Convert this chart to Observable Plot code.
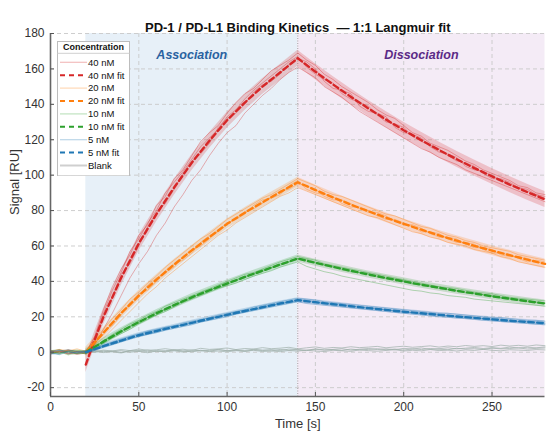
<!DOCTYPE html>
<html><head><meta charset="utf-8">
<script src="https://cdn.jsdelivr.net/npm/d3@7"></script>
<script src="https://cdn.jsdelivr.net/npm/@observablehq/plot@0.6"></script>
<style>
body{margin:0;background:#fff;}
#wrap{position:relative;width:551px;height:445px;font-family:"Liberation Sans",Arial,sans-serif;}
#legend{position:absolute;left:57px;top:41px;}
</style></head>
<body><div id="wrap"><div id="chart"></div><div id="legend"></div></div>
<script>
// ---------- data ----------
const concentrations = ["40 nM","20 nM","10 nM","5 nM"];
const phases = [
  {name:"Association", start:20, end:140},
  {name:"Dissociation", start:140, end:280}
];
const xTicks = [0,50,100,150,200,250];
const yTicks = [-20,0,20,40,60,80,100,120,140,160,180];

// fitted 1:1 Langmuir curves
const fitT = [20,25,30,40,50,60,70,80,90,100,110,120,130,140,150,160,170,180,190,200,210,220,230,240,250,260,270,280];
const fit40 = [-7,7,20,42,61.5,78,93,107,119.5,131,141,150,158,166,158.4,151.2,144.3,137.7,131.4,125.4,119.7,114.2,109,104,99.3,94.7,90.4,86.3];
const fit20 = [0,5.5,11,22,32,41,49.5,57.5,65,72.5,78.8,84.7,90.4,96,91.6,87.4,83.4,79.6,76,72.5,69.2,66,63,60.1,57.4,54.8,52.3,49.9];
const fit10 = [0,3,6,11.8,17,22,26.6,31,35,38.8,42.5,46,49.5,52.9,50.5,48.2,46,43.9,41.9,40,38.1,36.4,34.7,33.2,31.6,30.2,28.8,27.5];
const fit5  = [0,1.7,3.4,6.6,9.6,12,14.3,16.6,18.9,21.1,23.3,25.4,27.5,29.4,28.2,27.1,26,24.9,23.9,22.9,22,21.1,20.2,19.4,18.6,17.8,17.1,16.4];
// mean ± SD band half-width per concentration
const bandSD = [4.5,2.8,2,1.4];

// replicate sensorgrams
const repT = [0,5,10,15,20,25,30,35,40,45,50,55,60,65,70,75,80,85,90,95,100,105,110,115,120,125,130,135,140,145,150,155,160,165,170,175,180,185,190,195,200,205,210,215,220,225,230,235,240,245,250,255,260,265,270,275,280];
const rep40 = [
 [0.8,-0.5,1.2,0.3,-1,9,24,37,47,55,66,72,83,88,98,103,111,119,124,128,135,141,146,149,154,159,162,165,169,165,162,157,154,150,147,144,141,137,134,132,128,124,122,118,116,114,111,108,106,103,101,99,97,94,93,90,89],
 [-0.6,0.9,-1.1,0.5,0.2,4,13,22,32,42,50,57,66,73,82,89,97,103,111,118,124,128,135,140,145,149,154,158,161,158,155,150,147,144,140,136,133,130,127,124,121,118,115,113,110,108,106,103,101,99,97,95,93,91,89,87,85],
 [0.2,1.5,-0.4,-1.2,-0.5,6,20,31,44,50,60,71,79,84,92,101,108,112,118,127,132,135,140,147,151,153,157,163,166,164,160,153,149,148,146,139,136,135,133,127,124,123,121,116,113,112,110,105,103,102,100,97,95,93,91,89,87],
 [-1.0,0.4,0.7,-0.8,0.6,8,22,35,45,57,64,73,80,90,96,102,109,116,121,126,133,137,143,148,152,156,160,164,167,161,157,154,152,146,143,141,139,134,130,129,127,122,119,117,115,111,108,107,105,101,98,98,96,93,92,89,88]
];
const rep20 = [
 [0.5,1.6,0.8,1.9,0.6,7,13,19,24,30,34,39,43,48,52,56,60,64,67,71,75,78,81,84,87,89,92,95,98,96,94,91,89,88,86,84,82,80,78,77,75,73,71,70,68,66,65,63,62,60,59,58,57,55,54,53,52],
 [-0.3,0.4,-0.8,0.9,-0.2,4,8,13,18,23,28,33,37,42,46,50,54,58,62,66,69,73,76,79,82,85,88,90,93,91,89,87,85,83,81,79,77,76,74,72,70,68,67,65,64,62,61,60,58,57,56,54,53,51,50,49,48],
 [1.0,-0.2,0.6,-0.5,0.3,6,12,15,21,28,33,35,40,46,50,52,56,62,66,68,72,76,79,81,84,88,91,92,95,94,92,88,86,86,84,81,79,79,77,74,72,72,70,67,65,65,64,61,59,59,58,55,54,54,53,51,50],
 [-0.9,0.7,1.3,0.2,-0.6,5,10,17,23,26,31,38,42,45,48,54,58,60,64,69,73,75,78,83,86,87,89,94,97,92,90,89,88,84,82,82,80,77,75,75,73,71,68,68,67,64,62,62,61,58,56,56,55,53,51,52,51]
];
const rep10 = [
 [-0.8,0.3,-1.5,-0.4,-0.9,2.5,6.5,10,13,16,18,21,23,26,28,30,32,34,36,38,40,42,44,45,47,49,51,52.5,54,53,52,50,49,48,47,46,45,44,43,42,41,40,39,38,37,36.5,36,35,34,33.5,33,32,31,30.5,30,29.5,29],
 [0.4,-0.6,0.2,-1.0,-0.3,2,5,8,10.5,13,16,18.5,21,23,25.5,28,30,32,34,36,37.5,39,41,43,44.5,46,48,49.5,51,48.5,47,45.5,44.5,43,42,41,40,39,38,37,36,35,34.5,33.5,33,32,31.5,31,30,29.5,29,28.5,28,27.5,27,26.5,26],
 [0.9,1.4,0.1,0.7,0.2,3.5,6,9.5,12,15,17.5,19.5,21,24.5,27,28.5,30.5,33.5,35.5,36.5,38,41,43,44,45.5,48,50,51,53,52.5,51,49,48,47.5,46.5,45,44,43.5,42,41.5,40.5,39,38,37.5,37,35.5,34.5,34,33.5,32.5,31.5,31,30.5,29.5,28.5,28.5,28],
 [-0.2,-1.1,0.8,1.2,0.5,3,6.8,8.5,11.2,14.5,16.5,20,22.5,24,26,29,31.5,32.5,34.5,37.5,39.5,40.5,42,44.5,46.5,47.5,49,51,52.5,51.5,50.5,49.5,48.5,46.5,45.5,45,44.5,42.5,41.5,41,40,38.5,38.5,37,36,35.5,35,33.5,33,32.5,32,30.5,30,29.5,29.5,28,27.5]
];
const rep5 = [
 [-1.2,-0.3,0.5,-0.6,0.1,2,4,5.8,7.5,9,10.5,12,13,14,15,16.5,17.5,18.5,19.5,21,22,23,24,25.5,26.5,27.5,28.5,29.5,30.5,30,29.5,28.5,28,27.5,27,26.5,26,25.5,25,24.5,24,23.5,23,22.5,22,22,21.5,21,20.5,20,19.5,19.5,19,18.5,18,18,17.5],
 [0.6,1.1,-0.7,0.2,-0.4,1.2,2.8,4.2,5.8,7.4,8.8,10,11,12.5,13.5,14.5,15.5,17,18,19,20,21.5,22.5,23.5,24.5,25.5,26.5,27.5,28.5,27.5,27,26.5,26,25.5,25,24.5,24,23.5,23,22.5,22,21.5,21,20.5,20,19.7,19.3,19,18.5,18,17.7,17.3,17,16.6,16.2,15.8,15.5],
 [0.0,0.8,1.3,0.4,0.6,2.2,3.6,5.6,6.8,8.9,9.9,11.6,12.4,14.1,14.8,15.2,16.4,18.3,19.2,19.9,21.5,22.9,23.6,24.3,25.8,26.9,27.3,28.2,29.7,29.4,28.6,27.6,27.5,27.1,26.2,25.4,25.3,24.8,23.6,23.7,23.2,22.4,22.1,21.9,21.3,20.6,20.4,20.3,19.8,19.1,18.8,18.7,18.2,17.5,17.3,17.2,16.6],
 [-0.5,-1.4,0.3,-0.2,0.9,1.6,3.2,4.5,6.2,7.9,9.2,10.3,11.6,13.3,14.2,15.7,16.9,17.3,18.4,20.1,20.7,21.7,22.9,24.2,25.1,26.2,27.8,28.1,29.1,28.8,28.1,27.3,26.8,26.4,25.7,25.4,24.6,24.5,24.1,23.1,22.6,22.3,21.6,21.4,20.8,20.4,19.9,19.6,19.1,18.9,18.3,17.8,17.4,17.3,16.9,16.4,16.1]
];
// blank (buffer) traces, sampled every 5 s from t = 0
const blankStep = 5;
const blank = [
 [0.4,-0.6,0.9,-0.3,0.2,1.1,0.3,0.8,-0.2,1.0,0.5,1.3,0.4,0.9,1.2,0.6,1.4,0.7,1.1,1.6,0.8,1.3,1.0,1.7,1.2,1.5,0.9,1.8,1.4,1.1,1.9,1.3,1.6,2.0,1.2,1.7,2.1,1.5,1.9,1.4,2.2,1.8,2.4,1.6,2.0,2.5,1.9,2.3,2.7,2.1,2.6,2.2,2.9,2.4,2.8,2.5,3.0],
 [-0.5,0.3,-0.9,0.1,-0.4,0.6,-0.2,0.4,0.9,0.0,0.5,-0.3,0.7,0.2,0.8,0.1,0.6,1.0,0.3,0.7,0.2,0.9,0.5,1.1,0.4,0.8,0.3,1.0,0.6,1.2,0.7,0.4,1.1,0.8,0.5,1.3,0.9,0.6,1.0,1.4,0.7,1.1,0.8,1.5,0.9,1.2,0.7,1.3,1.0,1.6,1.1,0.8,1.4,1.2,1.0,1.5,1.3],
 [0.9,0.2,1.4,0.5,1.0,0.3,1.2,0.7,1.5,0.9,1.8,1.1,1.4,2.0,1.3,1.7,1.0,2.2,1.6,1.9,2.4,1.5,2.1,1.8,2.6,2.0,2.3,2.8,1.9,2.5,3.0,2.2,2.7,2.4,3.1,2.6,2.9,3.3,2.5,3.0,3.4,2.8,3.2,3.6,2.9,3.5,3.1,3.8,3.3,3.7,3.2,4.0,3.5,3.9,3.4,4.1,3.7],
 [-0.2,0.7,0.1,-0.7,0.5,-0.1,0.8,0.2,-0.4,0.6,1.0,0.3,0.9,0.5,1.3,0.7,0.2,1.1,0.6,1.4,0.9,1.2,0.5,1.3,1.0,0.7,1.6,1.1,1.4,0.9,1.7,1.2,1.5,1.0,1.8,1.3,1.6,2.0,1.4,1.8,1.2,1.9,1.5,2.1,1.7,1.4,2.2,1.8,2.0,1.6,2.3,1.9,2.1,2.5,1.8,2.2,2.4]
];

// ---------- styles ----------
const colors = {"40 nM":"#d62728","20 nM":"#ff7f0e","10 nM":"#2ca02c","5 nM":"#1f77b4"};
const phaseStyle = {Association:{fill:"#e7f0f8", text:"#2a62a0"}, Dissociation:{fill:"#f4ebf6", text:"#5b2a86"}};
const blankColor = "#9fb0aa";

// ---------- tables ----------
const fits = [fit40,fit20,fit10,fit5];
const reps = [rep40,rep20,rep10,rep5];
const fitRows = concentrations.flatMap((c,i)=>fitT.map((t,j)=>({c,t,v:fits[i][j],lo:fits[i][j]-bandSD[i],hi:fits[i][j]+bandSD[i]})));
const repRows = concentrations.flatMap((c,i)=>reps[i].flatMap((r,k)=>r.map((v,j)=>({c,id:c+"-"+k,t:repT[j],v}))));
const blankRows = blank.flatMap((r,k)=>r.map((v,j)=>({id:"b"+k,t:j*blankStep,v})));

const W=551,H=445,mT=33,mB=49,mL=50,mR=6.5;
const fw=W-mL-mR, fh=H-mT-mB;
const font='"Liberation Sans",Arial,sans-serif';

const marks = [];
phases.forEach(p=>marks.push(Plot.rect([p],{x1:"start",x2:"end",fill:phaseStyle[p.name].fill})));
marks.push(Plot.gridX(xTicks.slice(1),{stroke:"#c9c9c9",strokeOpacity:0.9,strokeDasharray:"4,3"}));
marks.push(Plot.gridY(yTicks,{stroke:"#c9c9c9",strokeOpacity:0.9,strokeDasharray:"4,3"}));
marks.push(Plot.ruleX([phases[0].end],{stroke:"#9a9a9a",strokeDasharray:"1,1.5",strokeWidth:0.9}));
marks.push(Plot.line(blankRows,{x:"t",y:"v",z:"id",stroke:blankColor,strokeWidth:0.9,strokeOpacity:0.8}));
concentrations.forEach(c=>{
  marks.push(Plot.areaY(fitRows.filter(d=>d.c===c),{x:"t",y1:"lo",y2:"hi",fill:colors[c],fillOpacity:0.22}));
  marks.push(Plot.line(repRows.filter(d=>d.c===c),{x:"t",y:"v",z:"id",stroke:colors[c],strokeWidth:0.8,strokeOpacity:0.45}));
});
concentrations.forEach(c=>{
  marks.push(Plot.line(fitRows.filter(d=>d.c===c),{x:"t",y:"v",stroke:colors[c],strokeWidth:2.4,strokeDasharray:"5.5,3.5"}));
});
// phase labels
marks.push(Plot.text(phases,{x:d=>(d.start+d.end)/2,frameAnchor:"top",dy:17,text:"name",
  fill:d=>phaseStyle[d.name].text,fontStyle:"italic",fontWeight:"bold",fontSize:12.5}));
// axes lines & inward ticks
marks.push(Plot.ruleX([0],{stroke:"#666",strokeWidth:1.6}));
marks.push(Plot.ruleY([-25],{stroke:"#666",strokeWidth:1.6}));
marks.push(Plot.tickX(xTicks,{x:d=>d,stroke:"#555",insetTop:fh-4}));
marks.push(Plot.tickY(yTicks,{y:d=>d,stroke:"#555",insetRight:fw-4}));
marks.push(Plot.axisX(xTicks,{tickSize:0,tickPadding:6,label:null,fontSize:12,fill:"#333"}));
marks.push(Plot.axisY(yTicks,{tickSize:0,tickPadding:6,label:null,fontSize:12,fill:"#333",tickFormat:d=>String(d)}));
// axis titles & chart title
marks.push(Plot.text(["Time [s]"],{frameAnchor:"bottom",dy:31,text:d=>d,fontSize:13,fill:"#333"}));
marks.push(Plot.text(["Signal [RU]"],{frameAnchor:"left",dx:-36,rotate:-90,text:d=>d,fontSize:13,fill:"#333"}));
marks.push(Plot.text(["PD-1 / PD-L1 Binding Kinetics  — 1:1 Langmuir fit"],{frameAnchor:"top",dy:-11,text:d=>d,fontSize:13,fontWeight:"bold",fill:"#111"}));

const chart = Plot.plot({
  width:W,height:H,marginTop:mT,marginBottom:mB,marginLeft:mL,marginRight:mR,
  x:{domain:[0,280],label:null,axis:null},
  y:{domain:[-25,180],label:null,axis:null},
  style:{fontFamily:font,fontSize:"12px",color:"#333",background:"white",overflow:"visible"},
  marks
});
document.getElementById("chart").appendChild(chart);

// ---------- legend ----------
const items = concentrations.flatMap(c=>[{label:c,color:colors[c],fit:false},{label:c+" fit",color:colors[c],fit:true}])
  .concat([{label:"Blank",color:"#cfcfcf",fit:false,blank:true}]);
const lw=72, rowH=12.9, top0=21.3, lh=top0+items.length*rowH-3;
let s=`<svg width="${lw+1}" height="${lh+1}" style="font-family:${font}">`;
s+=`<rect x="0.5" y="0.5" width="${lw}" height="${lh}" fill="white" stroke="#bdbdbd"/>`;
s+=`<text x="${lw/2+0.5}" y="9" font-size="9" font-weight="bold" text-anchor="middle" fill="#111">Concentration</text>`;
s+=`<line x1="0.5" x2="${lw+0.5}" y1="12.3" y2="12.3" stroke="#d0d0d0"/>`;
items.forEach((it,i)=>{
  const y=top0+i*rowH;
  if(it.fit) s+=`<line x1="3" x2="30" y1="${y}" y2="${y}" stroke="${it.color}" stroke-width="2" stroke-dasharray="5,4"/>`;
  else if(it.blank) s+=`<line x1="3" x2="30" y1="${y}" y2="${y}" stroke="${it.color}" stroke-width="2"/>`;
  else s+=`<line x1="3" x2="30" y1="${y}" y2="${y}" stroke="${it.color}" stroke-opacity="0.3" stroke-width="1.2"/>`;
  s+=`<text x="31" y="${y+3.3}" font-size="9.5" fill="#111">${it.label}</text>`;
});
s+=`</svg>`;
document.getElementById("legend").innerHTML=s;
</script></body></html>
